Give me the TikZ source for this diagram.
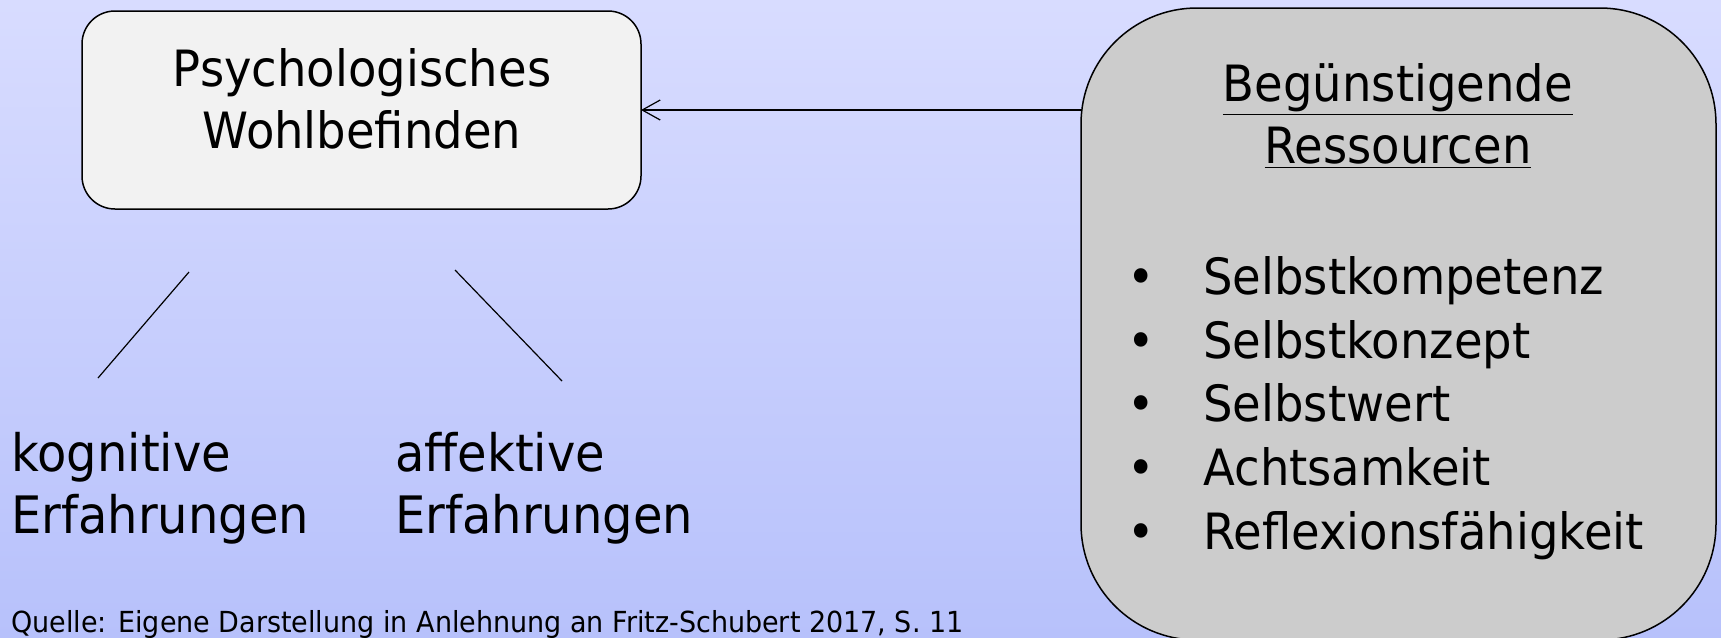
\documentclass[tikz,border=0pt]{standalone}
\usepackage{fontspec}
\setmainfont{DejaVu Sans}[FakeStretch=0.93]
\usetikzlibrary{arrows.meta}
\definecolor{bgtop}{HTML}{D8DCFF}
\definecolor{bgbottom}{HTML}{B7C1FB}
\definecolor{wellfill}{HTML}{F2F2F2}
\definecolor{resfill}{HTML}{CCCCCC}
\tikzset{
  box/.style={draw=black, line width=0.75pt},
  txt/.style={inner sep=0pt, text=black},
  bigfont/.style={font=\fontsize{25}{31}\selectfont},
  facetfont/.style={font=\fontsize{25.8}{31}\selectfont},
  capfont/.style={font=\fontsize{14.5}{17}\selectfont},
  link/.style={draw=black, line width=0.6pt},
}
\begin{document}
\begin{tikzpicture}[x=0.5pt, y=-0.5pt]
  % page background with vertical gradient
  \shade[top color=bgtop, bottom color=bgbottom] (0,0) rectangle (1721,638);
  \useasboundingbox (0,0) rectangle (1721,638);

  % main construct box
  \draw[box, fill=wellfill, rounded corners=16.5pt] (82,11) rectangle (641,209);
  \coordinate (wellE) at (641,110);
  \node[txt, bigfont, align=center] (well) at (362,99) {Psychologisches\\Wohlbefinden};

  % resources box
  \draw[box, fill=resfill, rounded corners=58pt] (1081,8) rectangle (1716,640);
  \coordinate (resW) at (1081,110);
  \node[txt, bigfont, align=center] (restitle) at (1398,116) {\underline{Begünstigende}\\\underline{Ressourcen}};

  \node[txt, anchor=north west, align=left, font=\fontsize{25}{31.85}\selectfont] (reslist) at (1127,256)
    {\makebox[38pt][l]{•}Selbstkompetenz\\
     \makebox[38pt][l]{•}Selbstkonzept\\
     \makebox[38pt][l]{•}Selbstwert\\
     \makebox[38pt][l]{•}Achtsamkeit\\
     \makebox[38pt][l]{•}Reflexionsfähigkeit};

  % influence arrow
  \draw[link, -{Straight Barb[length=9pt, width=10pt]}] (resW) -- (wellE);

  % two facets
  \coordinate (l1a) at (189,272);
  \coordinate (l1b) at (98,378);
  \coordinate (l2a) at (455,270);
  \coordinate (l2b) at (562,381);
  \draw[link] (l1a) -- (l1b);
  \draw[link] (l2a) -- (l2b);

  \node[txt, facetfont, align=left, anchor=west] (cog) at (11,488) {kognitive\\Erfahrungen};
  \node[txt, facetfont, align=left, anchor=west] (aff) at (395,488) {affektive\\Erfahrungen};

  % source line
  \node[txt, capfont, anchor=west] (src) at (11,624) {Quelle: Eigene Darstellung in Anlehnung an Fritz-Schubert 2017, S. 11};
\end{tikzpicture}
\end{document}
